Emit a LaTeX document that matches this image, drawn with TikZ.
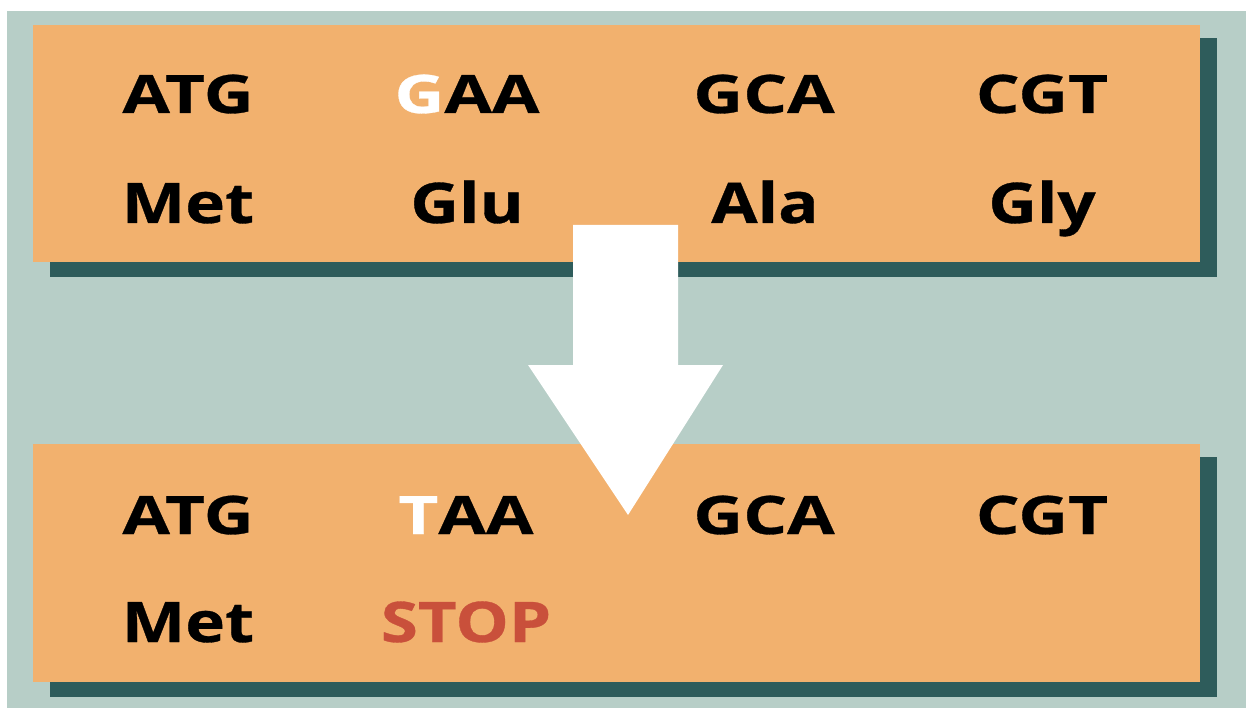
\documentclass[tikz,border=0pt]{standalone}
\usepackage{fontspec}
\setmainfont{Open Sans}
\newfontfamily\codonfont[FakeStretch=1.3,FakeBold=0.6]{Open Sans}
\newfontfamily\aminofont[FakeStretch=1.2,FakeBold=0.6]{Open Sans}
\usepackage{tikz}
\usetikzlibrary{positioning}
\definecolor{panelColor}{HTML}{B7CEC7}
\definecolor{boxColor}{HTML}{F2B16E}
\definecolor{shadowColor}{HTML}{2E5C5B}
\definecolor{stopColor}{HTML}{C9503B}

\begin{document}
\begin{tikzpicture}[x=1pt,y=-1pt]

          \tikzstyle{codonNode} = [font=\codonfont\fontsize{53}{60}\selectfont\bfseries, text=black, inner sep=0pt, anchor=base];
          \tikzstyle{aminoNode} = [font=\aminofont\fontsize{56}{62}\selectfont\bfseries, text=black, inner sep=0pt, anchor=base];
          \tikzstyle{stopNode} = [aminoNode, text=stopColor];

          \useasboundingbox (0,0) rectangle (1246,708);
          \fill[white] (0,0) rectangle (1246,708);
          \fill[panelColor] (7,11) rectangle (1246,708);

          % boxes with their shadows
          \fill[shadowColor] (50,38) rectangle (1217,277);
          \fill[boxColor] (33,25) rectangle (1200,262);
          \fill[shadowColor] (50,457) rectangle (1217,697);
          \fill[boxColor] (33,444) rectangle (1200,682);

          % before
          \node[codonNode] (atg) at (188,113) {ATG};
          \node[codonNode] (gaa) at (467,113) {{\color{white}G}AA};
          \node[codonNode] (gca) at (764,113) {GCA};
          \node[codonNode] (cgt) at (1042,113) {CGT};
          \node[aminoNode] (met) at (188,223) {Met};
          \node[aminoNode] (glu) at (467,223) {Glu};
          \node[aminoNode] (ala) at (765,223) {Ala};
          \node[aminoNode] (gly) at (1042,223) {Gly};

          % after
          \node[codonNode] (atgB) at (188,534) {ATG};
          \node[codonNode] (taa) at (466,534) {{\color{white}T}AA};
          \node[codonNode] (gcaB) at (764,534) {GCA};
          \node[codonNode] (cgtB) at (1042,534) {CGT};
          \node[aminoNode] (metB) at (188,642) {Met};
          \node[stopNode] (stop) at (466,642) {STOP};

          % mutation arrow
          \fill[white] (573,225) -- (678,225) -- (678,365) -- (723,365)
            -- (628,515) -- (528,365) -- (573,365) -- cycle;
        \end{tikzpicture}
\end{document}
